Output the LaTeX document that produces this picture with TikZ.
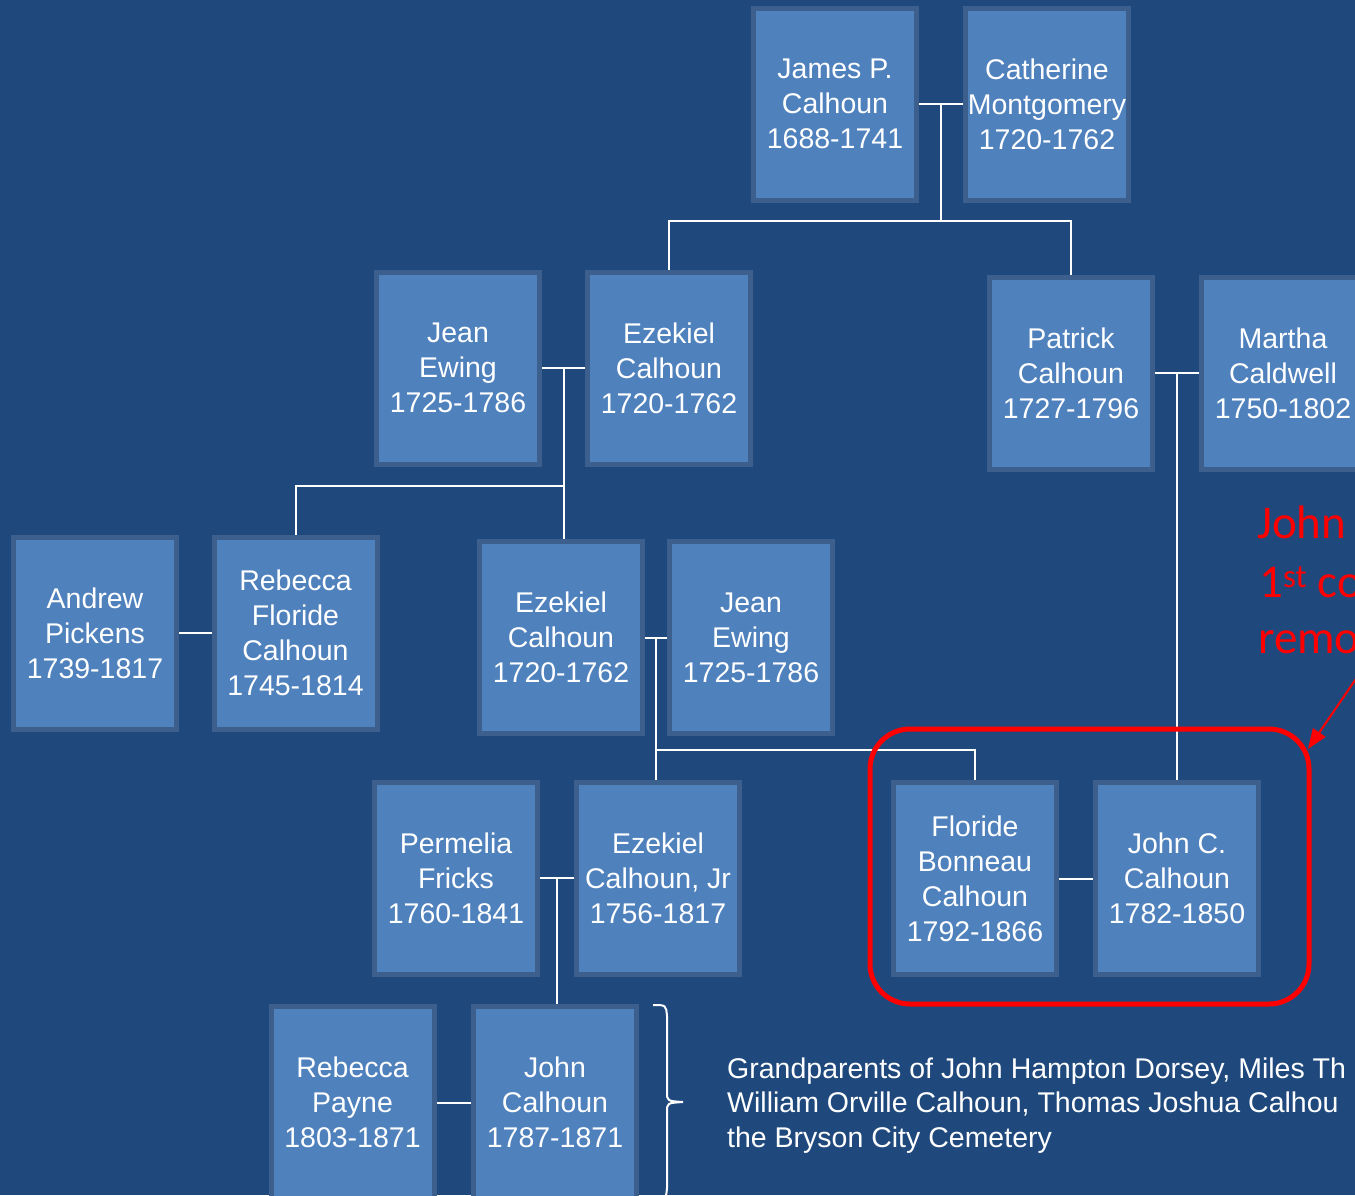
\documentclass[tikz,border=0pt]{standalone}
\usepackage{fontspec}
\setmainfont{Liberation Sans}
\newfontfamily\notefont{Carlito}
\usetikzlibrary{arrows.meta,calc}
\definecolor{slide}{HTML}{1F497D}
\definecolor{boxfill}{HTML}{4F81BD}
\definecolor{boxline}{HTML}{3C5F8D}
\tikzset{
	person/.style={draw=boxline, fill=boxfill, line width=5pt, minimum width=163pt, minimum height=192pt, inner sep=0pt, text=white, align=center, font=\fontsize{28.5}{35}\selectfont},
	link/.style={draw=white, line width=2pt},
	redline/.style={text=red, anchor=base west, inner sep=0pt, font=\notefont\fontsize{47}{57}\selectfont},
}

\begin{document}
\begin{tikzpicture}[x=1pt,y=-1pt]
		\useasboundingbox (0,0) rectangle (1355,1195);
		\clip (0,0) rectangle (1355,1195);
		\fill[slide] (0,0) rectangle (1355,1195);
		\node[person] (james) at (835,104) {James P.\\Calhoun\\1688-1741};
		\node[person] (catherine) at (1047,104) {Catherine\\Montgomery\\1720-1762};
		\node[person] (jean) at (458,368) {Jean\\Ewing\\1725-1786};
		\node[person] (ezekiel) at (669,368) {Ezekiel\\Calhoun\\1720-1762};
		\node[person] (patrick) at (1071,373) {Patrick\\Calhoun\\1727-1796};
		\node[person] (martha) at (1283,373) {Martha\\Caldwell\\1750-1802};
		\node[person] (andrew) at (95,633) {Andrew\\Pickens\\1739-1817};
		\node[person] (rebecca) at (295.5,633) {Rebecca\\Floride\\Calhoun\\1745-1814};
		\node[person] (ezekielb) at (561,637.5) {Ezekiel\\Calhoun\\1720-1762};
		\node[person] (jeanb) at (751,637.5) {Jean\\Ewing\\1725-1786};
		\node[person] (permelia) at (456,878) {Permelia\\Fricks\\1760-1841};
		\node[person] (ezekieljr) at (658,878) {Ezekiel\\Calhoun, Jr\\1756-1817};
		\node[person] (floride) at (975,878.5) {Floride\\Bonneau\\Calhoun\\1792-1866};
		\node[person] (johnc) at (1177,878.5) {John C.\\Calhoun\\1782-1850};
		\node[person] (rebeccap) at (352.5,1102.5) {Rebecca\\Payne\\1803-1871};
		\node[person] (john) at (555,1102.5) {John\\Calhoun\\1787-1871};

		\draw[link] (james.east) -- (catherine.west);
		\coordinate (jc) at ($(james.east)!0.5!(catherine.west)$);
		\coordinate (jcdrop) at ($(jc)+(0,117)$);
		\draw[link] (jc) -- (jcdrop);
		\draw[link] (ezekiel.north) |- (jcdrop) -| (patrick.north);

		\draw[link] (jean.east) -- (ezekiel.west);
		\coordinate (je) at ($(jean.east)!0.5!(ezekiel.west)$);
		\coordinate (jedrop) at ($(je)+(0,118)$);
		\draw[link] (je) -- (je |- ezekielb.north);
		\draw[link] (jedrop) -| (rebecca.north);

		\draw[link] (andrew.east) -- (rebecca.west);

		\draw[link] (ezekielb.east) -- (jeanb.west);
		\coordinate (ej) at ($(ezekielb.east)!0.5!(jeanb.west)$);
		\coordinate (ejdrop) at ($(ej)+(0,112.5)$);
		\draw[link] (ej) -- (ej |- ezekieljr.north);
		\draw[link] (ejdrop) -| (floride.north);

		\draw[link] (patrick.east) -- (martha.west);
		\coordinate (pm) at ($(patrick.east)!0.5!(martha.west)$);
		\draw[link] (pm) -- (pm |- johnc.north);

		\draw[link] (permelia.east) -- (ezekieljr.west);
		\coordinate (pe) at ($(permelia.east)!0.5!(ezekieljr.west)$);
		\draw[link] (pe) -- (pe |- john.north);

		\draw[link] (floride.east) -- (johnc.west);
		\draw[link] (rebeccap.east) -- (john.west);

		\draw[red, line width=5pt, rounded corners=40pt] (870,729) rectangle (1309,1004);
		\coordinate (notefoot) at (1362,670);
		\coordinate (notetip) at (1308,749);
		\draw[red, line width=2pt, -{Triangle[length=20pt,width=15pt]}] (notefoot) -- (notetip);
		\node[redline] (notea) at (1257,538) {John};
		\node[redline] (noteb) at (1259,597) {1\textsuperscript{st} co};
		\node[redline] (notec) at (1258,653) {remo};

		\coordinate (bracetop) at (653,1005);
		\coordinate (bracetip) at (683,1102);
		\coordinate (bracefoot) at (653,1199);
		\draw[white, line width=2pt] (bracetop) .. controls (666,1005) .. (667,1016) -- (667,1092) .. controls (667,1101) .. (bracetip) .. controls (667,1103) .. (667,1112) -- (667,1188) .. controls (666,1199) .. (bracefoot);
		\node[anchor=base west, align=left, inner sep=0pt, text=white, font=\fontsize{28.5}{34.5}\selectfont] (grandnote) at (727,1147) {Grandparents of John Hampton Dorsey, Miles Th\\William Orville Calhoun, Thomas Joshua Calhou\\the Bryson City Cemetery};
  \end{tikzpicture}
\end{document}
